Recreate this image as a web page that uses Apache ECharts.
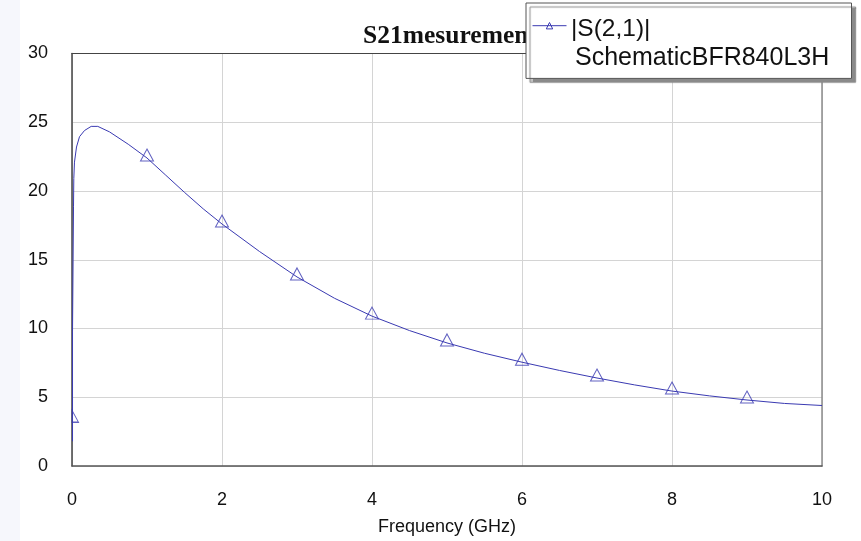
<!DOCTYPE html>
<html>
<head>
<meta charset="utf-8">
<script src="https://cdn.jsdelivr.net/npm/echarts@6/dist/echarts.min.js"></script>
<style>
html,body{margin:0;padding:0;background:#fff;}
#chart{width:861px;height:541px;}
</style>
</head>
<body>
<div id="chart"></div>
<script>
// Curve: |S(2,1)| vs frequency (GHz)
var curveFreq = [0.007, 0.007, 0.02, 0.024, 0.033, 0.06, 0.1, 0.167, 0.256, 0.344, 0.5, 0.75, 1, 1.25, 1.5, 1.75, 2, 2.5, 3, 3.5, 4, 4.5, 5, 5.5, 6, 6.5, 7, 7.5, 8, 8.5, 9, 9.5, 10];
var curveVal  = [1.8, 9.8, 18.9, 20.9, 22.1, 23.2, 23.95, 24.4, 24.7, 24.7, 24.3, 23.4, 22.4, 21.15, 19.9, 18.7, 17.6, 15.6, 13.75, 12.2, 10.9, 9.85, 8.95, 8.2, 7.55, 6.95, 6.4, 5.9, 5.45, 5.1, 4.8, 4.55, 4.4];
// Triangle markers
var markerFreq = [0, 1, 2, 3, 4, 5, 6, 7, 8, 9];
var markerVal  = [3.4, 22.4, 17.6, 13.75, 10.9, 8.95, 7.55, 6.4, 5.45, 4.8];
// Axis ticks
var xTicks = [0, 2, 4, 6, 8, 10];
var yTicks = [0, 5, 10, 15, 20, 25, 30];
var seriesName = '|S(2,1)|';
var seriesSubName = 'SchematicBFR840L3H';
var titleText = 'S21mesurement';
var xName = 'Frequency (GHz)';

var BLUE = '#3a3ab2';
var chart = echarts.init(document.getElementById('chart'), null, {renderer: 'canvas'});

var curveData = curveFreq.map(function (f, i) { return [f, curveVal[i]]; });
var markerData = markerFreq.map(function (f, i) {
  var item = {value: [f, markerVal[i]]};
  if (i === 0) {
    // half triangle (left half hidden by the axis edge)
    item.symbol = 'path://M0,0 L6,12 L0,12 Z';
    item.symbolSize = [6.5, 12];
    item.symbolOffset = [3.25, -3];
  }
  return item;
});

var xMin = xTicks[0], xMax = xTicks[xTicks.length - 1], xInt = xTicks[1] - xTicks[0];
var yMin = yTicks[0], yMax = yTicks[yTicks.length - 1], yInt = yTicks[1] - yTicks[0];
var FONT = 'Liberation Sans, Arial, sans-serif';

var option = {
  animation: false,
  backgroundColor: '#ffffff',
  title: {
    text: titleText,
    left: 445, textAlign: 'center',
    top: 18,
    z: 2,
    textStyle: {fontFamily: 'Liberation Serif, Times New Roman, serif', fontWeight: 'bold', fontSize: 25.5, color: '#111'}
  },
  legend: {
    data: [seriesName],
    left: 526, top: 3,
    z: 10,
    orient: 'vertical',
    padding: [19, 280, 49, 6],
    itemWidth: 34, itemHeight: 8,
    backgroundColor: '#ffffff',
    borderColor: '#555555', borderWidth: 1,
    shadowColor: '#8a8a8a', shadowBlur: 1, shadowOffsetX: 4, shadowOffsetY: 4,
    selectedMode: false,
    itemStyle: {color: 'transparent', borderColor: BLUE, borderWidth: 1},
    lineStyle: {color: BLUE, width: 1},
    formatter: function () { return ''; },
    textStyle: {fontFamily: FONT, fontSize: 8, lineHeight: 8, color: '#111'}
  },
  graphic: [
    {type: 'rect', left: 0, top: 0, shape: {width: 20, height: 541}, style: {fill: '#f6f7fc'}, z: -10, silent: true},
    {type: 'text', left: 571, top: 17, z: 100, style: {text: seriesName, font: '24.5px ' + FONT, fill: '#111'}},
    {type: 'text', left: 575, top: 46, z: 100, style: {text: seriesSubName, font: '25px ' + FONT, fill: '#111'}}
  ],
  grid: {left: 72, right: 39, top: 53.5, bottom: 75, containLabel: false},
  xAxis: [{
    type: 'value', min: xMin, max: xMax, interval: xInt,
    name: xName, nameLocation: 'middle', nameGap: 52,
    nameTextStyle: {fontFamily: FONT, fontSize: 18, color: '#111'},
    axisLine: {show: true, onZero: false, lineStyle: {color: '#555', width: 1.5}},
    axisTick: {show: false},
    axisLabel: {fontFamily: FONT, fontSize: 18, color: '#111', margin: 25},
    splitLine: {show: true, lineStyle: {color: '#d4d4d4', width: 1}}
  }, {
    type: 'value', position: 'top', min: xMin, max: xMax, interval: xInt,
    axisLine: {show: true, onZero: false, lineStyle: {color: '#444', width: 1.2}},
    axisTick: {show: false}, axisLabel: {show: false}, splitLine: {show: false}
  }],
  yAxis: [{
    type: 'value', min: yMin, max: yMax, interval: yInt,
    axisLine: {show: true, onZero: false, lineStyle: {color: '#444', width: 1.5}},
    axisTick: {show: false},
    axisLabel: {fontFamily: FONT, fontSize: 18, color: '#111', margin: 24},
    splitLine: {show: true, lineStyle: {color: '#d4d4d4', width: 1}}
  }, {
    type: 'value', position: 'right', min: yMin, max: yMax, interval: yInt,
    axisLine: {show: true, onZero: false, lineStyle: {color: '#8c8c8c', width: 1.5}},
    axisTick: {show: false}, axisLabel: {show: false}, splitLine: {show: false}
  }],
  series: [{
    name: seriesName,
    type: 'line',
    data: curveData,
    showSymbol: false,
    symbol: 'triangle',
    smooth: false,
    clip: true,
    lineStyle: {color: BLUE, width: 1},
    itemStyle: {color: BLUE},
    z: 3
  }, {
    name: 'markers',
    type: 'scatter',
    data: markerData,
    symbol: 'triangle',
    symbolSize: [13, 12],
    symbolOffset: [0, -3],
    itemStyle: {color: 'rgba(255,255,255,0)', borderColor: BLUE, borderWidth: 1},
    z: 4
  }]
};
chart.setOption(option);
</script>
</body>
</html>
